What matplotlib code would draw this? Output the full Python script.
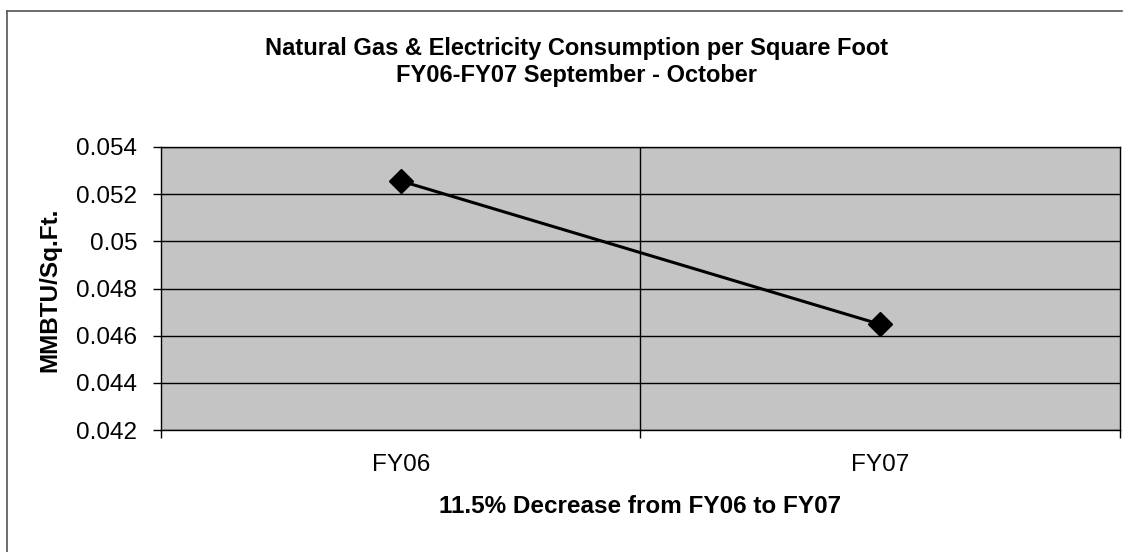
import matplotlib

matplotlib.use('Agg')
import matplotlib.pyplot as plt
from matplotlib.lines import Line2D
import numpy as np

plt.rcParams['font.family'] = ['Liberation Sans', 'DejaVu Sans']

# data
years = ['FY06', 'FY07']
mmbtu_per_sqft = [0.05256, 0.04648]
y_ticks = [0.042, 0.044, 0.046, 0.048, 0.05, 0.052, 0.054]
y_tick_labels = ['0.042', '0.044', '0.046', '0.048', '0.05', '0.052', '0.054']

title = 'Natural Gas & Electricity Consumption per Square Foot\nFY06-FY07 September - October'
x_title = '11.5% Decrease from FY06 to FY07'
y_title = 'MMBTU/Sq.Ft.'

fig = plt.figure(figsize=(11.28, 5.52), dpi=100)
ax = fig.add_axes([0.1427, 0.221, 0.8502, 0.5127])
ax.set_facecolor('#c4c4c4')

x = np.arange(len(years))
ax.plot(x, mmbtu_per_sqft, color='black', linewidth=2.2, marker='D',
        markersize=12, markerfacecolor='black', markeredgecolor='black', zorder=5)

ax.set_xlim(-0.5, len(years) - 0.5)
ax.set_ylim(y_ticks[0], y_ticks[-1])
ax.set_yticks(y_ticks)
ax.set_yticklabels(y_tick_labels, fontsize=17.5)
ax.set_xticks(x)
ax.set_xticklabels(years, fontsize=17.5)
ax.tick_params(axis='x', length=0, pad=17)
ax.set_xticks(np.arange(len(years) + 1) - 0.5, minor=True)
ax.tick_params(axis='x', which='minor', length=6, width=1, direction='out')
ax.tick_params(axis='y', length=6, width=1, direction='out', pad=11)

ax.yaxis.grid(True, color='black', linewidth=1)
for b in np.arange(1, len(years)) - 0.5:
    ax.axvline(b, color='black', linewidth=1, zorder=1)
ax.set_axisbelow(True)
for s in ax.spines.values():
    s.set_color('black')
    s.set_linewidth(1)

fig.text(0.511, 0.888, title, ha='center', va='center', fontsize=17,
         fontweight='bold', linespacing=1.25)
fig.text(0.567, 0.083, x_title, ha='center', va='center', fontsize=17.5, fontweight='bold')
fig.text(0.044, 0.475, y_title, ha='center', va='center', rotation=90,
         fontsize=17.5, fontweight='bold')

# outer chart frame (top and left visible)
fig.add_artist(Line2D([0.0065, 0.0065], [0.0, 0.98], transform=fig.transFigure,
                      color='#555555', linewidth=1.2))
fig.add_artist(Line2D([0.0065, 0.995], [0.98, 0.98], transform=fig.transFigure,
                      color='#555555', linewidth=1.2))

fig.savefig('out.png', dpi=100, facecolor='white')
